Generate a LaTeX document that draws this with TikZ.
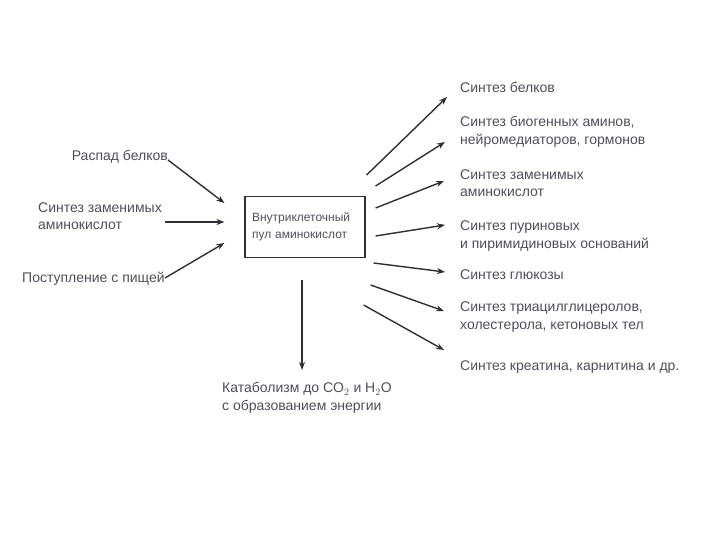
\documentclass[tikz,border=0pt]{standalone}
\usepackage{fontspec}
\setmainfont{Liberation Sans}
\usetikzlibrary{arrows.meta}
\definecolor{txtgray}{HTML}{4E4E5C}
\definecolor{arrgray}{HTML}{2E2E34}

\begin{document}
\begin{tikzpicture}[
	x=1pt,y=-1pt,
	every node/.style={inner sep=0pt,text=txtgray,font=\fontsize{14}{17.5}\selectfont,align=left},
	lbl/.style={anchor=west},
	pool/.style={draw=arrgray,line width=1.2pt,minimum width=120pt,minimum height=61pt,text width=106pt,font=\fontsize{12}{17}\selectfont},
	flow/.style={draw=arrgray,line width=1.4pt,-{Stealth[length=8pt,width=6pt]}}
	]
	\useasboundingbox (0,0) rectangle (720,540);
	% central pool
	\node[pool] (pool) at (305,227) {Внутриклеточный\\пул аминокислот};
	% sources
	\node[anchor=east] (raspad) at (168,157) {Распад белков};
	\node[lbl] (sintin) at (38,216) {Синтез заменимых\\аминокислот};
	\node[lbl] (pisha) at (22,279) {Поступление с пищей};
	% products
	\node[lbl] (belki) at (460,87) {Синтез белков};
	\node[lbl] (aminy) at (460,132) {Синтез биогенных аминов,\\нейромедиаторов, гормонов};
	\node[lbl] (aminok) at (460,183) {Синтез заменимых\\аминокислот};
	\node[lbl] (purin) at (460,236) {Синтез пуриновых\\и пиримидиновых оснований};
	\node[lbl] (gluk) at (460,275) {Синтез глюкозы};
	\node[lbl] (triacil) at (460,317) {Синтез триацилглицеролов,\\холестерола, кетоновых тел};
	\node[lbl] (kreat) at (460,367) {Синтез креатина, карнитина и др.};
	\node[lbl] (katab) at (222,398) {Катаболизм до CO$_2$ и H$_2$O\\с образованием энергии};

	% incoming
	\draw[flow] ([xshift=0pt,yshift=-3pt]raspad.east) -- ([xshift=-20pt,yshift=24pt]pool.west);
	\draw[flow] ([xshift=127pt,yshift=-6pt]sintin.west) -- ([xshift=-20pt,yshift=5pt]pool.west);
	\draw[flow] ([xshift=143pt,yshift=1pt]pisha.west) -- ([xshift=-20pt,yshift=-16pt]pool.west);
	% outgoing
	\draw[flow] ([xshift=1pt,yshift=52pt]pool.east) -- ([xshift=-13pt,yshift=-10pt]belki.west);
	\draw[flow] ([xshift=10pt,yshift=41pt]pool.east) -- ([xshift=-15pt,yshift=-10pt]aminy.west);
	\draw[flow] ([xshift=10pt,yshift=19pt]pool.east) -- ([xshift=-16pt,yshift=2pt]aminok.west);
	\draw[flow] ([xshift=10pt,yshift=-9pt]pool.east) -- ([xshift=-15pt,yshift=11pt]purin.west);
	\draw[flow] ([xshift=8pt,yshift=-36pt]pool.east) -- ([xshift=-15pt,yshift=3pt]gluk.west);
	\draw[flow] ([xshift=5pt,yshift=-58pt]pool.east) -- ([xshift=-16pt,yshift=6pt]triacil.west);
	\draw[flow] ([xshift=-2pt,yshift=-78pt]pool.east) -- ([xshift=-16pt,yshift=17pt]kreat.west);
	\draw[flow] ([xshift=-3pt,yshift=-22pt]pool.south) -- ([xshift=80pt,yshift=28pt]katab.west);
\end{tikzpicture}
\end{document}
